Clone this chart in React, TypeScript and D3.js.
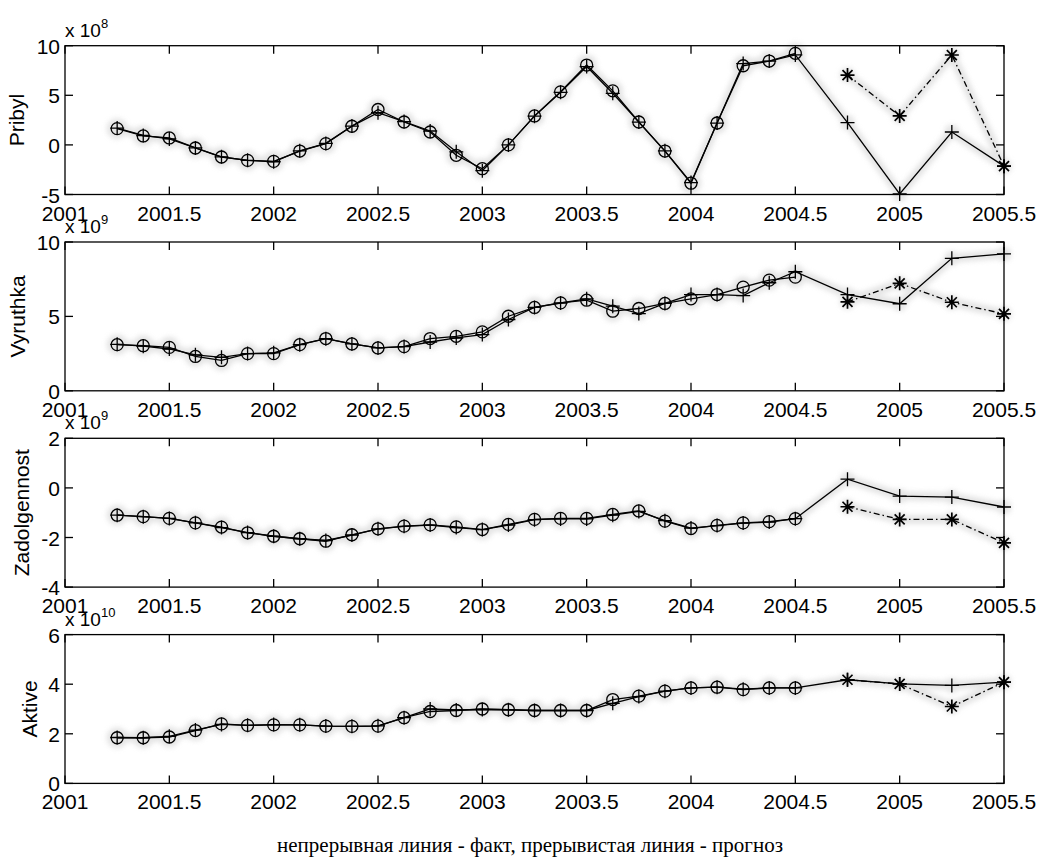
import React from 'react';
import * as d3 from 'd3';

// quarter-ish steps of the model period and the forecast period
const historyYears = [
  2001.25, 2001.375, 2001.5, 2001.625, 2001.75, 2001.875, 2002, 2002.125, 2002.25,
  2002.375, 2002.5, 2002.625, 2002.75, 2002.875, 2003, 2003.125, 2003.25, 2003.375,
  2003.5, 2003.625, 2003.75, 2003.875, 2004, 2004.125, 2004.25, 2004.375, 2004.5,
];
const forecastYears = [2004.75, 2005, 2005.25, 2005.5];
const xTicks = [2001, 2001.5, 2002, 2002.5, 2003, 2003.5, 2004, 2004.5, 2005, 2005.5];

// Pribyl, x 10^8
const pribylFit = [1.64, 0.9, 0.7, -0.31, -1.22, -1.56, -1.66, -0.62, 0.13, 1.88, 3.57, 2.31, 1.3, -1.05, -2.4, 0.0, 2.92, 5.35, 8.05, 5.45, 2.31, -0.62, -3.86, 2.21, 7.98, 8.45, 9.23];
const pribylFact = [1.7, 0.95, 0.6, -0.3, -1.2, -1.55, -1.7, -0.6, 0.15, 1.9, 3.25, 2.35, 1.4, -0.7, -2.6, 0.0, 2.9, 5.3, 7.9, 5.2, 2.3, -0.6, -3.8, 2.2, 8.2, 8.45, 9.07, 2.25, -4.95, 1.3, -2.14];
const pribylForecast = [7.04, 2.92, 9.06, -2.14];
const pribylTicks = [-5, 0, 5, 10];

// Vyruthka, x 10^9
const vyruthkaFit = [3.1, 3.03, 2.92, 2.31, 2.04, 2.5, 2.5, 3.1, 3.51, 3.15, 2.88, 2.97, 3.51, 3.66, 3.96, 5.01, 5.6, 5.91, 6.09, 5.35, 5.53, 5.87, 6.18, 6.47, 6.97, 7.44, 7.64];
const vyruthkaFact = [3.12, 3.0, 2.81, 2.42, 2.25, 2.5, 2.55, 3.1, 3.5, 3.15, 2.88, 2.97, 3.28, 3.55, 3.78, 4.79, 5.6, 5.9, 6.18, 5.69, 5.19, 5.87, 6.47, 6.47, 6.4, 7.26, 8.0, 6.47, 5.85, 8.9, 9.2];
const vyruthkaForecast = [5.98, 7.22, 5.95, 5.17];
const vyruthkaTicks = [0, 5, 10];

// Zadolgennost, x 10^9
const zadolgFit = [-1.1, -1.16, -1.23, -1.41, -1.58, -1.81, -1.95, -2.05, -2.15, -1.89, -1.65, -1.54, -1.49, -1.57, -1.68, -1.47, -1.27, -1.23, -1.23, -1.07, -0.93, -1.34, -1.64, -1.51, -1.41, -1.36, -1.24];
const zadolgFact = [-1.1, -1.16, -1.23, -1.41, -1.6, -1.8, -1.95, -2.05, -2.12, -1.9, -1.65, -1.55, -1.5, -1.6, -1.68, -1.5, -1.28, -1.25, -1.25, -1.1, -0.95, -1.32, -1.62, -1.52, -1.42, -1.38, -1.24, 0.35, -0.33, -0.37, -0.77];
const zadolgForecast = [-0.76, -1.27, -1.27, -2.22];
const zadolgTicks = [-4, -2, 0, 2];

// Aktive, x 10^10
const aktiveFit = [1.84, 1.84, 1.87, 2.13, 2.4, 2.34, 2.36, 2.36, 2.31, 2.3, 2.31, 2.65, 2.9, 2.94, 3.0, 2.97, 2.94, 2.94, 2.94, 3.38, 3.52, 3.72, 3.85, 3.88, 3.78, 3.85, 3.85];
const aktiveFact = [1.85, 1.84, 1.9, 2.15, 2.38, 2.34, 2.37, 2.36, 2.31, 2.3, 2.32, 2.65, 3.0, 2.96, 2.98, 2.97, 2.94, 2.94, 2.94, 3.23, 3.5, 3.72, 3.85, 3.88, 3.8, 3.85, 3.85, 4.18, 4.01, 3.95, 4.08];
const aktiveForecast = [4.18, 4.01, 3.1, 4.08];
const aktiveTicks = [0, 2, 4, 6];

const panels = [
  { label: 'Pribyl', exp: '8', ticks: pribylTicks, fit: pribylFit, fact: pribylFact, forecast: pribylForecast, labelX: 24 },
  { label: 'Vyruthka', exp: '9', ticks: vyruthkaTicks, fit: vyruthkaFit, fact: vyruthkaFact, forecast: vyruthkaForecast, labelX: 25 },
  { label: 'Zadolgennost', exp: '9', ticks: zadolgTicks, fit: zadolgFit, fact: zadolgFact, forecast: zadolgForecast, labelX: 29 },
  { label: 'Aktive', exp: '10', ticks: aktiveTicks, fit: aktiveFit, fact: aktiveFact, forecast: aktiveForecast, labelX: 37 },
];

const W = 1040;
const H = 860;
const left = 65;
const right = 1004;
const firstTop = 45.7;
const step = 196.3;
const ph = 148.8;
const font = '"Liberation Sans", Arial, Helvetica, sans-serif';

const plusPath = 'M-7,0H7M0,-7V7';
const starPath = 'M-7,0H7M0,-7V7M-5,-5L5,5M-5,5L5,-5';

function Panel({ p, top }: any) {
  const x = d3.scaleLinear().domain([2001, 2005.5]).range([left, right]);
  const y = d3
    .scaleLinear()
    .domain([p.ticks[0], p.ticks[p.ticks.length - 1]])
    .range([top + ph, top]);
  const factYears = historyYears.concat(forecastYears);
  const line = d3
    .line<[number, number]>()
    .x((d) => x(d[0]))
    .y((d) => y(d[1]));
  const fitPts: [number, number][] = historyYears.map((t, i) => [t, p.fit[i]]);
  const factPts: [number, number][] = factYears.map((t, i) => [t, p.fact[i]]);
  const fcPts: [number, number][] = forecastYears.map((t, i) => [t, p.forecast[i]]);
  const bottom = top + ph;
  const tl = 8;

  const marks = (halo: boolean) => (
    <g
      fill="none"
      stroke={halo ? '#cfcfcf' : '#000'}
      strokeWidth={halo ? 9 : 1.3}
      filter={halo ? 'url(#halo)' : undefined}
      opacity={halo ? 0.55 : 1}
    >
      <path d={line(fitPts) || ''} />
      <path d={line(factPts) || ''} />
      <path d={line(fcPts) || ''} strokeDasharray={halo ? undefined : '6,3,1.5,3'} />
      {fitPts.map((d, i) => (
        <circle key={'o' + i} cx={x(d[0])} cy={y(d[1])} r={6} />
      ))}
      {factPts.map((d, i) => (
        <path key={'p' + i} d={plusPath} transform={`translate(${x(d[0])},${y(d[1])})`} />
      ))}
      {fcPts.map((d, i) => (
        <path key={'s' + i} d={starPath} transform={`translate(${x(d[0])},${y(d[1])})`} strokeWidth={halo ? 9 : 1.7} />
      ))}
    </g>
  );

  return (
    <g>
      {marks(true)}
      {marks(false)}
      <rect x={left} y={top} width={right - left} height={ph} fill="none" stroke="#000" strokeWidth={1.3} />
      {xTicks.map((t) => (
        <g key={'x' + t}>
          <line x1={x(t)} x2={x(t)} y1={top} y2={top + tl} stroke="#000" strokeWidth={1.3} />
          <line x1={x(t)} x2={x(t)} y1={bottom} y2={bottom - tl} stroke="#000" strokeWidth={1.3} />
          <text x={x(t)} y={bottom + 26} textAnchor="middle" fontSize={21} fontFamily={font}>
            {String(t)}
          </text>
        </g>
      ))}
      {p.ticks.map((t: number) => (
        <g key={'y' + t}>
          <line x1={left} x2={left + tl} y1={y(t)} y2={y(t)} stroke="#000" strokeWidth={1.3} />
          <line x1={right} x2={right - tl} y1={y(t)} y2={y(t)} stroke="#000" strokeWidth={1.3} />
          <text x={left - 5} y={y(t) + 8} textAnchor="end" fontSize={21} fontFamily={font}>
            {String(t)}
          </text>
        </g>
      ))}
      <text x={left} y={top - 9} fontSize={19} fontFamily={font}>
        x 10
        <tspan fontSize={13} dy={-9}>
          {p.exp}
        </tspan>
      </text>
      <text
        transform={`translate(${p.labelX},${top + ph / 2}) rotate(-90)`}
        textAnchor="middle"
        fontSize={21}
        fontFamily={font}
      >
        {p.label}
      </text>
    </g>
  );
}

export default function App() {
  return (
    <svg
      width={W}
      height={H}
      style={{ position: 'absolute', left: 0, top: 0, background: '#fff', display: 'block' }}
    >
      <defs>
        <filter id="halo" x="-20%" y="-20%" width="140%" height="140%">
          <feGaussianBlur stdDeviation="2.5" />
        </filter>
      </defs>
      <rect width={W} height={H} fill="#fff" />
      {panels.map((p, i) => (
        <Panel key={p.label} p={p} top={firstTop + i * step} />
      ))}
      <text x={530} y={852} textAnchor="middle" fontSize={21} fontFamily='"Liberation Serif", "Times New Roman", serif'>
        непрерывная линия - факт, прерывистая линия - прогноз
      </text>
    </svg>
  );
}
